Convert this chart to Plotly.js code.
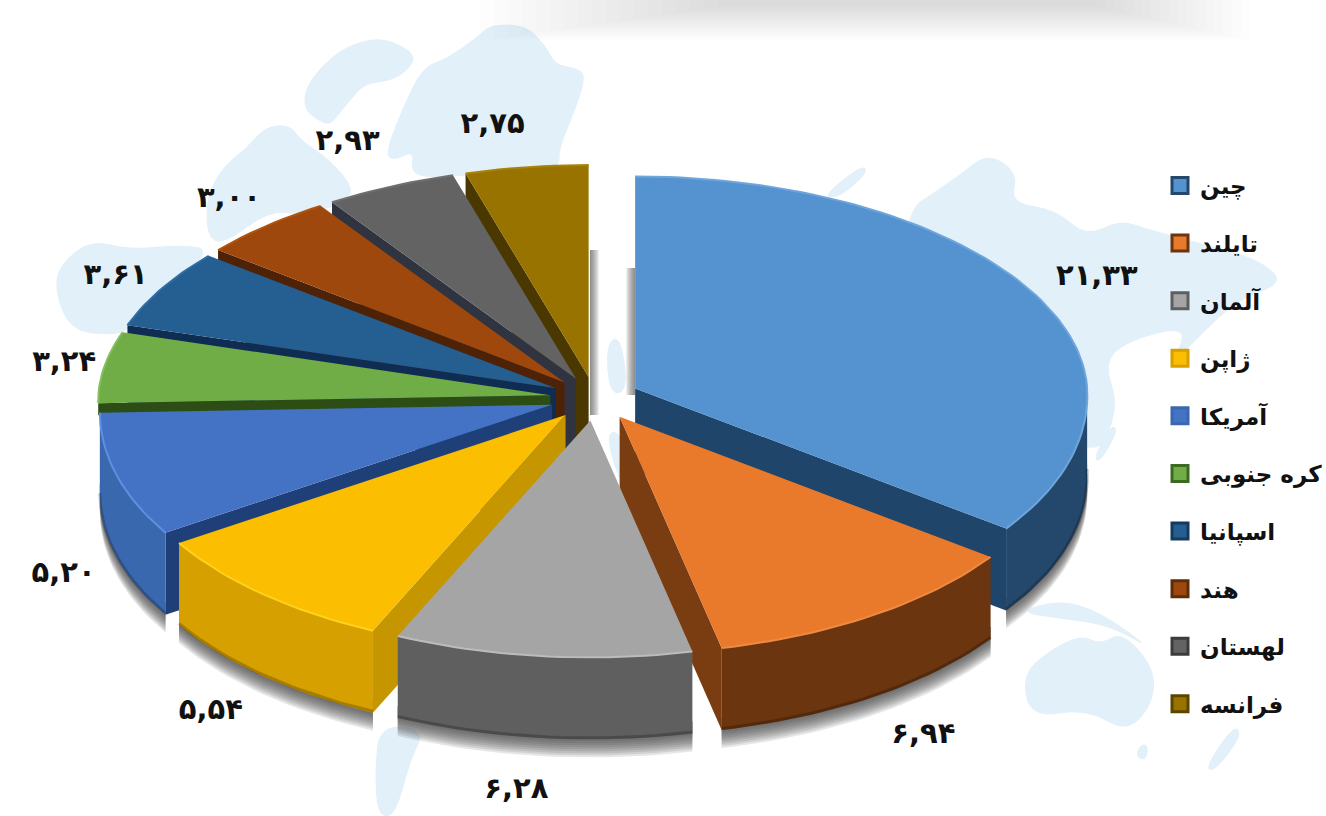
<!DOCTYPE html>
<html><head><meta charset="utf-8">
<script src="https://cdn.plot.ly/plotly-3.0.1.min.js"></script>
<style>html,body{margin:0;padding:0;background:#fff}#c{width:1326px;height:816px}</style>
</head><body><div id="c"></div>
<script>
// ---- data ----
const categories = ['چین','تایلند','آلمان','ژاپن','آمریکا','کره جنوبی','اسپانیا','هند','لهستان','فرانسه'];
const values = [21.33,6.94,6.28,5.54,5.20,3.24,3.61,3.00,2.93,2.75];

// ---- styles ----
const topColors  = ['#5592d0','#e97a2c','#a5a5a5','#fbbe00','#4472c4','#70ad47','#255e91','#9e480e','#636363','#997300'];
const wallColors = ['#24486b','#6b3510','#5f5f5f','#d6a000','#3a68ae','#3d6a22','#143a5e','#5e2c08','#3c3c3c','#5c4500'];
const cutColors  = ['#20456b','#7a3d12','#5f5f5f','#c69600','#1f3f78','#2c4d14','#0f2c52','#4d2206','#2f3440','#4a3800'];
const edgeColors = ['#6ea6dc','#f08a42','#bcbcbc','#ffd21c','#5f8fe0','#84bf5c','#2f6ea5','#b0540f','#707070','#a8820a'];
const labelShift = [[64,-15],[50,121],[-26,135],[-52,118],[-53,100],[-40,-3],[-46,-12],[-37,-26],[-43,-44],[-34,-41]];
const drawOrder  = [9,8,7,6,5,4,0,3,1,2];

// ---- geometry of the tilted pie ----
const CX=595, CY=398, RX=452, RY_BACK=212, RY_FRONT=237, PERSP=0.03, PULL=45, DEPTH=82, SIDE_CUT=12;
const D2R=Math.PI/180;
const total = values.reduce((a,b)=>a+b,0);
let acc=0;
const slices = values.map((v,i)=>{
  const a0=acc/total*360; acc+=v; const a1=acc/total*360; const mid=(a0+a1)/2;
  const ax=CX+PULL*Math.sin(mid*D2R);
  const ay=CY-PULL*(Math.cos(mid*D2R)>=0?0.47:0.5)*Math.cos(mid*D2R);
  return {i,a0,a1,mid,ax,ay};
});
function rim(s,deg,dep){
  const c=Math.cos(deg*D2R), ry=c>=0?RY_BACK:RY_FRONT, rx=RX*(1-PERSP*c);
  return [s.ax+rx*Math.sin(deg*D2R), s.ay-ry*c+(dep||0)];
}
function arc(s,from,to,dep){
  const n=Math.max(2,Math.ceil(Math.abs(to-from)/1.5)), pts=[];
  for(let k=0;k<=n;k++){pts.push(rim(s,from+(to-from)*k/n,dep));}
  return pts;
}
const traces=[];
function poly(pts,color){
  traces.push({type:'scatter',mode:'lines',x:pts.map(p=>p[0]),y:pts.map(p=>p[1]),
    fill:'toself',fillcolor:color,line:{width:0,color:color},hoverinfo:'skip',showlegend:false});
}
function stroke(pts,color,w){
  traces.push({type:'scatter',mode:'lines',x:pts.map(p=>p[0]),y:pts.map(p=>p[1]),
    line:{width:w,color:color},hoverinfo:'skip',showlegend:false});
}
// soft drop shadows under the visible outer walls
slices.forEach(s=>{
  const f=Math.max(s.a0,90), t=Math.min(s.a1,270);
  if(t-f<3) return;
  [2,4,6,8,10,12,14,16,18].forEach(sh=>{
    poly(arc(s,f,t,DEPTH+sh).concat(arc(s,t,f,DEPTH-12)),'rgba(60,60,60,0.13)');
  });
});
// slices, back to front
drawOrder.forEach(idx=>{
  const s=slices[idx];
  const f=Math.max(s.a0,90), t=Math.min(s.a1,270);
  const apex=[s.ax,s.ay];
  [[s.a0,Math.sin(s.a0*D2R)<-1e-6],[s.a1,Math.sin(s.a1*D2R)>1e-6]].forEach(([deg,vis])=>{
    if(!vis) return;
    // a nearly sideways edge only shows a thin strip before the next slice covers it
    const dep=Math.abs(deg-270)<5?SIDE_CUT:DEPTH;
    poly([apex,rim(s,deg,0),rim(s,deg,dep),[s.ax,s.ay+dep]],cutColors[idx]);
  });
  if(t-f>=3){
    poly(arc(s,f,t,0).concat(arc(s,t,f,DEPTH)),wallColors[idx]);
    stroke(arc(s,f,t,DEPTH-1.5),'rgba(0,0,0,0.22)',3);
  }
  poly([apex].concat(arc(s,s.a0,s.a1,0)),topColors[idx]);
  stroke(arc(s,s.a0,s.a1,0),edgeColors[idx],2);
});
// value labels
const toFa=v=>v.toFixed(2).replace(/\d/g,d=>'۰۱۲۳۴۵۶۷۸۹'[+d]).replace('.',',');
const lblPts=slices.map(s=>{const p=rim(s,s.mid,0);return [p[0]+labelShift[s.i][0],p[1]+labelShift[s.i][1]];});
traces.push({type:'scatter',mode:'text',x:lblPts.map(p=>p[0]),y:lblPts.map(p=>p[1]),
  text:values.map(toFa),textposition:'middle center',
  textfont:{family:'"DejaVu Sans"',size:29,color:'#111',weight:'bold'},hoverinfo:'skip',showlegend:false});
// legend entries
categories.forEach((c,i)=>{
  traces.push({type:'scatter',mode:'markers',x:[null],y:[null],name:c,legendgroup:'g'+i,showlegend:true,
    marker:{symbol:'square',size:16,color:topColors[i],line:{width:3,color:wallColors[i]}},hoverinfo:'skip'});
});

// ---- faint world map behind the chart ----
const MAP='#e2f0fa';
const blobs=[
 [[305,90],[320,68],[345,47],[380,37],[410,50],[415,62],[395,80],[365,83],[350,100],[340,112],[330,125],[318,120],[305,110]],
 [[402,110],[423,67],[445,60],[478,37],[490,25],[525,25],[545,45],[555,65],[575,68],[586,75],[575,110],[558,150],[560,170],[470,175],[410,178],[415,150],[395,160],[385,155]],
 [[207,195],[225,165],[245,150],[265,127],[290,125],[300,140],[330,160],[355,190],[340,205],[300,215],[270,210],[222,245],[207,235]],
 [[55,290],[60,265],[90,240],[130,250],[180,245],[215,250],[130,330],[110,335],[70,330]],
 [[908,210],[934,193],[960,175],[988,153],[1018,173],[1010,203],[1056,210],[1086,237],[1120,220],[1149,230],[1213,247],[1259,260],[1285,283],[1234,300],[1170,367],[1190,325],[1128,340],[1103,363],[1120,408],[1090,470],[900,300]],
 [[822,197],[862,165],[868,172],[840,197]],
 [[1094,458],[1111,425],[1118,430],[1100,462]],
 [[1022,675],[1050,650],[1082,635],[1100,645],[1124,631],[1162,681],[1132,735],[1086,708],[1031,718]],
 [[1234,725],[1242,735],[1215,771],[1205,768]],
 [[1140,745],[1148,745],[1146,760],[1136,757]],
 [[380,725],[425,730],[410,760],[395,816],[378,816],[375,770]],
 [[1018,612],[1060,600],[1100,612],[1153,650],[1110,625],[1060,618]],
 [[606,345],[620,335],[628,390],[610,395]],
 [[605,435],[620,430],[640,490],[625,495]]
];
const shapes=[];
const mid2=(a,b)=>[(a[0]+b[0])/2,(a[1]+b[1])/2];
const smoothPath=p=>{
  const n=p.length; let m=mid2(p[n-1],p[0]), d='M'+m.join(',');
  p.forEach((q,i)=>{const e=mid2(q,p[(i+1)%n]); d+=' Q'+q.join(',')+' '+e.join(',');});
  return d+'Z';
};
blobs.forEach(b=>shapes.push({type:'path',layer:'below',xref:'x',yref:'y',path:smoothPath(b),fillcolor:MAP,line:{width:1,color:MAP}}));
// top grey band: fades downward and toward both ends
for(let k=0;k<18;k++){
  shapes.push({type:'rect',layer:'below',xref:'x',yref:'y',x0:480+k*14,x1:1250-k*9,y0:0,y1:40-k*2,fillcolor:'#000',opacity:0.0075,line:{width:0}});
}
// vertical shadows beside the two top slices
for(let k=1;k<=9;k++){
  shapes.push({type:'rect',layer:'below',xref:'x',yref:'y',x0:590,x1:590+k,y0:250,y1:415,fillcolor:'#444',opacity:0.09,line:{width:0}});
  shapes.push({type:'rect',layer:'below',xref:'x',yref:'y',x0:635-k,x1:635,y0:268,y1:395,fillcolor:'#444',opacity:0.09,line:{width:0}});
}

const layout={
  width:1326,height:816,margin:{l:0,r:0,t:0,b:0,autoexpand:false},
  paper_bgcolor:'#fff',plot_bgcolor:'rgba(0,0,0,0)',
  xaxis:{visible:false,range:[0,1326],fixedrange:true},
  yaxis:{visible:false,range:[816,0],fixedrange:true},
  showlegend:true,
  legend:{x:1160/1326,xanchor:'left',y:1-164/816,yanchor:'top',bgcolor:'rgba(0,0,0,0)',
    font:{family:'"DejaVu Sans"',size:23,color:'#111',weight:'bold'},
    traceorder:'grouped',tracegroupgap:24.7,itemclick:false,itemdoubleclick:false},
  shapes:shapes,hovermode:false
};
Plotly.newPlot('c',traces,layout,{displayModeBar:false,staticPlot:true});
</script></body></html>
